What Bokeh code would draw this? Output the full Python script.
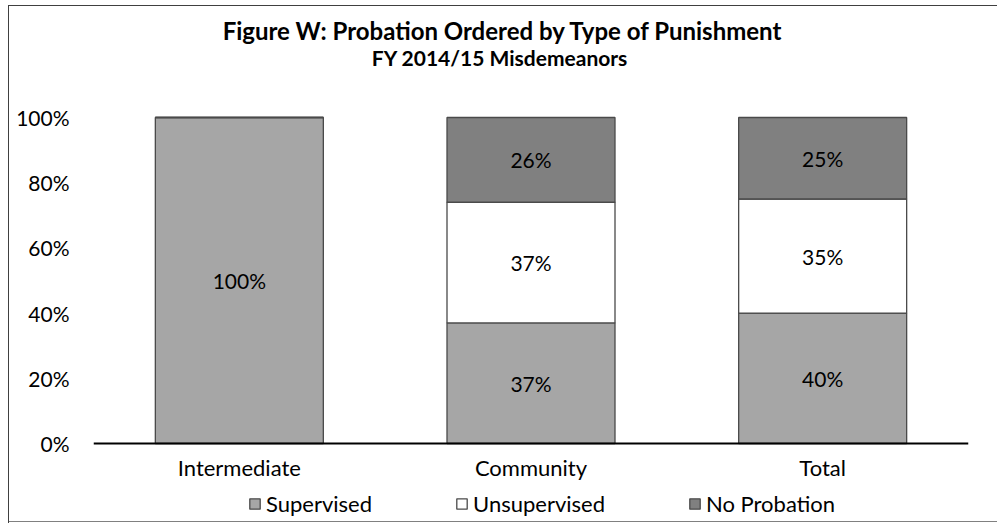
from bokeh.plotting import figure
from bokeh.models import ColumnDataSource, FactorRange, Range1d, FixedTicker, Legend, LegendItem
from bokeh.core.properties import value
from bokeh.embed import file_html
from bokeh.resources import INLINE

# ---- data ----
categories = ["Intermediate", "Community", "Total"]
series = ["Supervised", "Unsupervised", "No Probation"]
supervised = [1.00, 0.37, 0.40]
unsupervised = [0.00, 0.37, 0.35]
no_probation = [0.00, 0.26, 0.25]
y_ticks = [0.0, 0.2, 0.4, 0.6, 0.8, 1.0]
y_tick_labels = ["0%", "20%", "40%", "60%", "80%", "100%"]
title_text = "Figure W: Probation Ordered by Type of Punishment"
subtitle_text = "FY 2014/15 Misdemeanors"
colors = ["#A6A6A6", "#FFFFFF", "#808080"]

FONT = "Lato"
W, H = 997, 523
PX_PER_UNIT = 326.0   # pixels for 100%
TOP_PAD = 117         # pixels above the 100% line
BOTTOM_PAD = 80       # pixels below the 0% line

src = ColumnDataSource(dict(cat=categories, Supervised=supervised,
                            Unsupervised=unsupervised, **{"No Probation": no_probation}))

border_css = ("linear-gradient(#404040,#404040) 8px 5px / 1px 518px no-repeat, "
              "linear-gradient(#404040,#404040) 8px 5px / 989px 1px no-repeat, "
              "linear-gradient(#808080,#808080) 8px 521px / 989px 1px no-repeat")

p = figure(x_range=FactorRange(*categories),
           y_range=Range1d(-BOTTOM_PAD / PX_PER_UNIT, 1 + TOP_PAD / PX_PER_UNIT),
           width=W, height=H, output_backend="svg", toolbar_location=None,
           min_border_left=93, min_border_right=29, min_border_top=0,
           min_border_bottom=0,
           styles={"background": border_css})
p.border_fill_color = None
p.background_fill_color = None
p.outline_line_color = None

renderers = p.vbar_stack(series, x="cat", width=0.576, source=src,
                         fill_color=colors, line_color="#4a4a4a", line_width=1.3)

# data labels
lx, ly, lt = [], [], []
for i, c in enumerate(categories):
    base = 0.0
    for vals in (supervised, unsupervised, no_probation):
        v = vals[i]
        if v > 0:
            lx.append(c)
            ly.append(base + v / 2)
            lt.append(f"{round(v * 100)}%")
        base += v
p.text(x=lx, y=ly, text=lt, text_align="center", text_baseline="middle",
       text_font=value(FONT), text_font_size="21px", text_color="#000000")

# titles
p.text(x=["Community"], y=[1 + (TOP_PAD - 30) / PX_PER_UNIT], text=[title_text],
       x_offset=-28, text_align="center", text_baseline="middle",
       text_font=value(FONT), text_font_style="bold", text_font_size="24px",
       text_color="#000000")
p.text(x=["Community"], y=[1 + (TOP_PAD - 57) / PX_PER_UNIT], text=[subtitle_text],
       x_offset=-31, text_align="center", text_baseline="middle",
       text_font=value(FONT), text_font_style="bold", text_font_size="21px",
       text_color="#000000")

# axes
p.xgrid.visible = False
p.ygrid.visible = False

p.xaxis.fixed_location = 0
p.xaxis.axis_line_color = "#000000"
p.xaxis.axis_line_width = 2
p.xaxis.major_tick_line_color = None
p.xaxis.minor_tick_line_color = None
p.xaxis.major_label_text_font = FONT
p.xaxis.major_label_text_font_size = "22px"
p.xaxis.major_label_text_color = "#000000"
p.xaxis.major_label_standoff = 4

p.yaxis.ticker = FixedTicker(ticks=y_ticks)
p.yaxis.major_label_overrides = {t: l for t, l in zip(y_ticks, y_tick_labels)}
p.yaxis.axis_line_color = None
p.yaxis.major_tick_line_color = None
p.yaxis.minor_tick_line_color = None
p.yaxis.major_label_text_font = FONT
p.yaxis.major_label_text_font_size = "21px"
p.yaxis.major_label_text_color = "#000000"
p.yaxis.major_label_standoff = 18

legend = Legend(items=[LegendItem(label=s, renderers=[r]) for s, r in zip(series, renderers)],
                orientation="horizontal", location=(155, 6),
                glyph_width=13, glyph_height=13, label_standoff=5, spacing=83,
                label_height=24, padding=0, margin=0, border_line_color=None,
                background_fill_alpha=0,
                label_text_font=FONT, label_text_font_size="22px",
                label_text_color="#000000")
p.add_layout(legend, "center")

open("out.html", "w").write(file_html(p, INLINE))
